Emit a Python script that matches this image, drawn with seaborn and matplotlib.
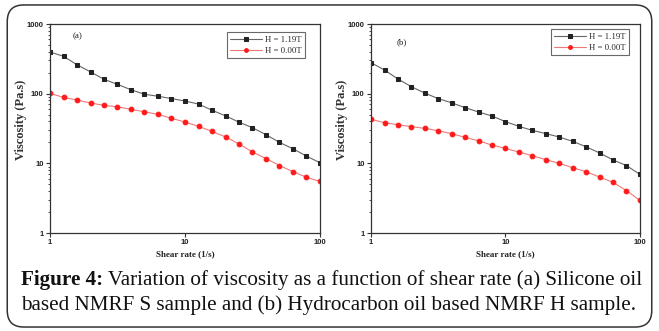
import numpy as np
import pandas as pd
import matplotlib
matplotlib.use("Agg")
import matplotlib.pyplot as plt
import seaborn as sns
from matplotlib.patches import FancyBboxPatch
from matplotlib.ticker import LogLocator, NullFormatter, FixedLocator, FixedFormatter

# ---------------- data ----------------
shear_rate = [1.0, 1.26, 1.58, 2.0, 2.51, 3.16, 3.98, 5.01, 6.31, 7.94, 10.0,
              12.6, 15.8, 20.0, 25.1, 31.6, 39.8, 50.1, 63.1, 79.4, 100.0]

a_on = [396, 344, 261, 205, 161, 136, 114, 98, 92, 85, 78.5,
        71, 58, 48, 39, 32.5, 25.8, 20, 16.2, 12.7, 10.2]
a_off = [101, 88.5, 81, 73.5, 68, 65, 59.5, 55, 50.5, 44.3, 39.2,
         34, 28.8, 23.9, 19, 14.6, 11.7, 9.3, 7.6, 6.3, 5.5]

b_on = [279, 219, 163, 126, 102, 85, 74, 63, 54.6, 47.8, 39.7,
        34, 29.8, 26.7, 23.9, 20.7, 17.3, 14.1, 11.2, 9.3, 6.95]
b_off = [42.8, 38.4, 35.9, 33.6, 31.8, 29.4, 26.7, 23.6, 21.1, 18.3, 16.4,
         14.5, 12.9, 11.3, 10.0, 8.67, 7.6, 6.36, 5.34, 4.06, 2.94]

series_labels = ["H = 1.19T", "H = 0.00T"]
panel_labels = ["(a)", "(b)"]
x_ticks = [1, 10, 100]
x_ticklabels = ["1", "10", "100"]
y_ticks = [1, 10, 100, 1000]
y_ticklabels = ["1", "10", "100", "1000"]
x_label = "Shear rate (1/s)"
y_label = "Viscosity (Pa.s)"
caption_bold = "Figure 4:"
caption_line1 = " Variation of viscosity as a function of shear rate (a) Silicone oil"
caption_line2 = "based NMRF S sample and (b) Hydrocarbon oil based NMRF H sample."

# ---------------- style ----------------
sns.set_theme(style="white")
plt.rcParams["font.family"] = ["Liberation Serif", "DejaVu Serif"]

fig = plt.figure(figsize=(6.59, 3.31), dpi=100)

# rounded border
border = FancyBboxPatch((0.011, 0.012), 0.978, 0.973,
                        boxstyle="round,pad=0,rounding_size=0.025",
                        transform=fig.transFigure, fill=False,
                        edgecolor="#333333", linewidth=1.1, mutation_aspect=2.0)
fig.patches.append(border)

axes_rects = [[0.0759, 0.296, 0.4097, 0.6314],
              [0.563, 0.296, 0.408, 0.6314]]
legend_anchor = [(0.945, 0.96), (0.96, 0.975)]
label_pos = [(0.085, 0.94), (0.095, 0.915)]

panels = [(a_on, a_off), (b_on, b_off)]

for i, (on, off) in enumerate(panels):
    ax = fig.add_axes(axes_rects[i])
    df = pd.DataFrame({"x": shear_rate * 2,
                       "y": list(on) + list(off),
                       "H": [series_labels[0]] * len(on) + [series_labels[1]] * len(off)})
    d_on = df[df["H"] == series_labels[0]]
    d_off = df[df["H"] == series_labels[1]]
    sns.lineplot(data=d_on, x="x", y="y", ax=ax, color="#666666", linewidth=0.8,
                 marker="s", markersize=3.0, markerfacecolor="#222222",
                 markeredgecolor="#222222", label=series_labels[0])
    sns.lineplot(data=d_off, x="x", y="y", ax=ax, color="#f07878", linewidth=0.8,
                 marker="o", markersize=3.4, markerfacecolor="#ff1a1a",
                 markeredgecolor="#ff1a1a", label=series_labels[1])
    ax.set_xscale("log")
    ax.set_yscale("log")
    ax.set_xlim(1, 100)
    ax.set_ylim(1, 1000)
    ax.xaxis.set_major_locator(FixedLocator(x_ticks))
    ax.xaxis.set_major_formatter(FixedFormatter(x_ticklabels))
    ax.yaxis.set_major_locator(FixedLocator(y_ticks))
    ax.yaxis.set_major_formatter(FixedFormatter(y_ticklabels))
    ax.xaxis.set_minor_locator(LogLocator(base=10, subs=np.arange(2, 10)))
    ax.yaxis.set_minor_locator(LogLocator(base=10, subs=np.arange(2, 10)))
    ax.xaxis.set_minor_formatter(NullFormatter())
    ax.yaxis.set_minor_formatter(NullFormatter())
    ax.tick_params(axis="both", which="major", direction="out", length=3,
                   width=0.8, color="#333333", pad=1.5, bottom=True, left=True)
    ax.tick_params(axis="y", which="minor", direction="out", length=1.6,
                   width=0.6, color="#333333", left=True)
    ax.tick_params(axis="x", which="minor", bottom=False)
    for lab in ax.get_xticklabels() + ax.get_yticklabels():
        lab.set_fontfamily("Liberation Sans")
        lab.set_fontsize(5.5)
        lab.set_fontweight("bold")
        lab.set_color("#222222")
    for sp in ax.spines.values():
        sp.set_color("#333333")
        sp.set_linewidth(0.9)
    ax.set_xlabel(x_label, fontsize=6.5, fontweight="bold", color="#222222", labelpad=3)
    ax.set_ylabel(y_label, fontsize=9, fontweight="bold", color="#333333", labelpad=2)
    ax.yaxis.set_label_coords(-0.085, 0.54)
    ax.text(label_pos[i][0], label_pos[i][1], panel_labels[i], transform=ax.transAxes,
            fontsize=6.5, ha="left", va="center", color="#222222")
    leg = ax.legend(loc="upper right", bbox_to_anchor=legend_anchor[i], fontsize=6.3,
                    frameon=True, fancybox=False, edgecolor="#444444",
                    handlelength=3.6, handletextpad=0.4, borderpad=0.4,
                    labelspacing=0.3, borderaxespad=0, markerscale=0.8)
    leg.get_frame().set_linewidth(0.8)

# caption
cap_size = 15.25
x0 = 21 / 659
t_bold = fig.text(x0, 1 - 285 / 331, caption_bold, fontsize=cap_size, fontweight="bold",
                  ha="left", va="baseline", color="#111111")
renderer = fig.canvas.get_renderer()
bb = t_bold.get_window_extent(renderer=renderer)
fig.text(bb.x1 / fig.bbox.width, 1 - 285 / 331, caption_line1, fontsize=cap_size,
         ha="left", va="baseline", color="#111111")
fig.text(x0, 1 - 310 / 331, caption_line2, fontsize=cap_size,
         ha="left", va="baseline", color="#111111")

fig.savefig("out.png", dpi=100)
